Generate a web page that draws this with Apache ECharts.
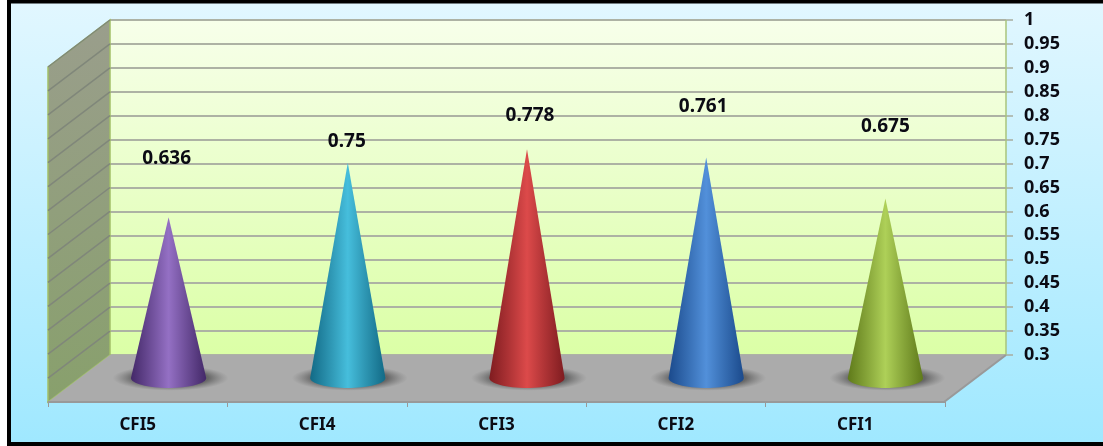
<!DOCTYPE html>
<html>
<head>
<meta charset="utf-8">
<style>html,body{margin:0;padding:0;background:#fff}#chart{width:1103px;height:446px}</style>
<script src="https://cdn.jsdelivr.net/npm/echarts@6/dist/echarts.min.js"></script>
</head>
<body>
<div id="chart"></div>
<script>
// Comparative fit index per model
const categories = ['CFI5', 'CFI4', 'CFI3', 'CFI2', 'CFI1'];
const cfiValues = [0.636, 0.75, 0.778, 0.761, 0.675];
const wallTicks = [0.3, 0.35, 0.4, 0.45, 0.5, 0.55, 0.6, 0.65, 0.7, 0.75, 0.8, 0.85, 0.9, 0.95, 1];

// Manually placed value labels: distance above each cone tip and sideways nudge
const labelLift = [59, 21, 34, 51, 72];
const labelNudge = [-2, -1, 3, -3, 0];
// Edge, centre pairs for the cone shading
const coneShades = [
  ['#432868', '#9470c4'],
  ['#126a86', '#46bedc'],
  ['#7f1c20', '#dc4a4a'],
  ['#1b4a8c', '#5290da'],
  ['#5f7a1a', '#aed058']
];

// Depth of the fake 3D box, in pixels, from back wall to front edge
const DEPTH_X = -62;
const DEPTH_Y = 47;
const FONT = '"Noto Sans", sans-serif';

const vGrad = (a, b) => new echarts.graphic.LinearGradient(0, 0, 0, 1, [
  { offset: 0, color: a }, { offset: 1, color: b }
]);

function renderBox(params, api) {
  const cs = params.coordSys;
  const x0 = cs.x, x1 = cs.x + cs.width, yTop = cs.y, yBot = cs.y + cs.height;
  const children = [];
  if (params.dataIndex === 0) {
    children.push({
      type: 'polygon', z2: 1,
      shape: { points: [[x0, yTop], [x0, yBot], [x0 + DEPTH_X, yBot + DEPTH_Y], [x0 + DEPTH_X, yTop + DEPTH_Y]] },
      style: { fill: vGrad('#9a9e8c', '#88a06c'), stroke: '#a2c068', lineWidth: 1.5 }
    });
    children.push({
      type: 'polygon', z2: 3,
      shape: { points: [[x0, yBot], [x1, yBot], [x1 + DEPTH_X, yBot + DEPTH_Y], [x0 + DEPTH_X, yBot + DEPTH_Y]] },
      style: { fill: '#ababab' }
    });
    children.push({
      type: 'polyline', z2: 4,
      shape: { points: [[x0 + DEPTH_X, yBot + DEPTH_Y], [x1 + DEPTH_X, yBot + DEPTH_Y], [x1, yBot]] },
      style: { fill: 'none', stroke: '#999999', lineWidth: 2 }
    });
    children.push({
      type: 'line', z2: 2,
      shape: { x1: x1, y1: yTop, x2: x1, y2: yBot },
      style: { stroke: '#a9c47c', lineWidth: 1.5 }
    });
  }
  const y = api.coord([0, api.value(0)])[1];
  if (api.value(0) > wallTicks[0]) {
    children.push({
      type: 'line', z2: 2,
      shape: { x1: x0, y1: y, x2: x0 + DEPTH_X, y2: y + DEPTH_Y },
      style: { stroke: '#80877a', lineWidth: 1.5 }
    });
  }
  return { type: 'group', children: children };
}

function renderCone(params, api) {
  const i = params.dataIndex;
  const base = api.coord([i, wallTicks[0]]);
  const tip = api.coord([i, api.value(1)]);
  const rx = api.size([1, 0])[0] * 0.21;
  const ry = 10;
  const pts = [[tip[0], tip[1]]];
  for (let k = 0; k <= 32; k++) {
    const t = Math.PI * k / 32;
    pts.push([base[0] + rx * Math.cos(t), base[1] + ry * Math.sin(t)]);
  }
  const edge = coneShades[i][0];
  const centre = coneShades[i][1];
  const mid = echarts.color.lerp(0.55, [edge, centre]);
  return {
    type: 'group',
    children: [
      {
        // soft contact shadow on the floor
        type: 'circle', z2: 5,
        x: base[0] + 2, y: base[1], scaleY: 0.22,
        shape: { cx: 0, cy: 0, r: 58 },
        style: {
          fill: new echarts.graphic.RadialGradient(0.5, 0.5, 0.5, [
            { offset: 0, color: 'rgba(80,80,80,0.9)' },
            { offset: 0.65, color: 'rgba(80,80,80,0.75)' },
            { offset: 1, color: 'rgba(110,110,110,0)' }
          ])
        }
      },
      {
        type: 'polygon', z2: 6,
        shape: { points: pts },
        style: {
          fill: new echarts.graphic.LinearGradient(base[0] - rx, 0, base[0] + rx, 0, [
            { offset: 0, color: edge },
            { offset: 0.28, color: mid },
            { offset: 0.5, color: centre },
            { offset: 0.72, color: mid },
            { offset: 1, color: edge }
          ], true)
        }
      },
      {
        type: 'text', z2: 8,
        x: tip[0] + labelNudge[i], y: tip[1] - labelLift[i],
        style: {
          text: String(api.value(1)), x: 0, y: 0,
          fill: '#0b0b14', font: 'bold 19px ' + FONT,
          align: 'center', verticalAlign: 'middle'
        }
      }
    ]
  };
}

const chart = echarts.init(document.getElementById('chart'), null, { renderer: 'canvas' });
chart.setOption({
  animation: false,
  backgroundColor: '#ffffff',
  graphic: [{
    type: 'rect', z: -1, silent: true,
    shape: { x: 9, y: 1.5, width: 1110, height: 442.5 },
    style: { fill: vGrad('#e2f7ff', '#9fe8ff'), stroke: '#000000', lineWidth: 4 }
  }],
  grid: [
    {
      left: 110, top: 20, width: 896, height: 335, show: true, borderWidth: 0,
      backgroundColor: vGrad('#f7ffea', '#dbffa6')
    },
    { left: 79, top: 43, width: 896, height: 335 },
    { left: 48, top: 67, width: 897, height: 335 }
  ],
  xAxis: [
    { gridIndex: 0, type: 'category', data: categories, show: false },
    { gridIndex: 1, type: 'category', data: categories, show: false },
    {
      gridIndex: 2, type: 'category', data: categories, position: 'bottom',
      axisLine: { lineStyle: { color: '#999999', width: 2 } },
      axisTick: { show: true, alignWithLabel: false, length: 5, lineStyle: { color: '#999999' } },
      axisLabel: { color: '#0b0b14', fontFamily: FONT, fontWeight: 'bold', fontSize: 17, margin: 15 }
    }
  ],
  yAxis: [
    {
      gridIndex: 0, type: 'value', position: 'right', min: 0.3, max: 1, interval: 0.05,
      axisLine: { show: false },
      axisTick: { show: true, length: 7, lineStyle: { color: '#a8ada0', width: 1.5 } },
      axisLabel: {
        color: '#0b0b14', fontFamily: FONT, fontWeight: 'bold', fontSize: 18, margin: 18,
        formatter: v => String(+v.toFixed(2))
      },
      splitLine: { show: true, lineStyle: { color: '#adb2a4', width: 2 } }
    },
    { gridIndex: 1, type: 'value', min: 0.3, max: 1, interval: 0.05, show: false },
    { gridIndex: 2, type: 'value', min: 0.3, max: 1, interval: 0.05, show: false }
  ],
  series: [
    {
      type: 'custom', xAxisIndex: 0, yAxisIndex: 0, z: 2, silent: true, clip: false,
      renderItem: renderBox,
      data: wallTicks.map(v => [v]),
      encode: { y: 0 }
    },
    {
      type: 'custom', xAxisIndex: 1, yAxisIndex: 1, z: 5, silent: true, clip: false,
      renderItem: renderCone,
      data: cfiValues.map((v, i) => [i, v]),
      encode: { x: 0, y: 1 }
    }
  ]
});
</script>
</body>
</html>
